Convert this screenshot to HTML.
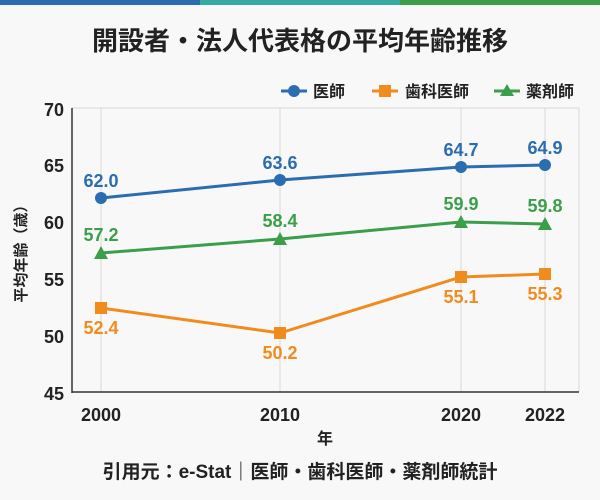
<!DOCTYPE html>
<html><head><meta charset="utf-8"><style>
body{margin:0;background:#f8f8f8;}
svg{display:block;font-family:"Liberation Sans","Noto Sans CJK JP",sans-serif;}
</style></head><body>
<svg width="600" height="500" viewBox="0 0 600 500">
<rect width="600" height="500" fill="#f8f8f8"/>
<rect x="0" y="0" width="200" height="5" fill="#2a6db0"/>
<rect x="200" y="0" width="200" height="5" fill="#38aaa5"/>
<rect x="400" y="0" width="200" height="5" fill="#3a9e4a"/>
<text x="300" y="50" text-anchor="middle" font-size="26" font-weight="bold" fill="#222">開設者・法人代表格の平均年齢推移</text>
<!-- legend -->
<g font-size="16" font-weight="bold" fill="#222">
<line x1="281" y1="91" x2="307" y2="91" stroke="#2a6db0" stroke-width="3"/><circle cx="294" cy="91" r="6" fill="#2a6db0"/>
<text x="313" y="97">医師</text>
<line x1="372" y1="91" x2="398" y2="91" stroke="#f08c1e" stroke-width="3"/><rect x="379" y="85" width="12" height="12" fill="#f08c1e"/>
<text x="405" y="97">歯科医師</text>
<line x1="494" y1="91" x2="520" y2="91" stroke="#3a9e4a" stroke-width="3"/><polygon points="507,84 514,96 500,96" fill="#3a9e4a"/>
<text x="526" y="97">薬剤師</text>
</g>
<!-- grid -->
<g stroke="#d8d8d8" stroke-width="1">
<line x1="101" y1="108" x2="101" y2="392"/>
<line x1="280" y1="108" x2="280" y2="392"/>
<line x1="461" y1="108" x2="461" y2="392"/>
<line x1="545" y1="108" x2="545" y2="392"/>
<line x1="72" y1="108" x2="579" y2="108"/>
<line x1="579" y1="108" x2="579" y2="392"/>
</g>
<line x1="72" y1="108" x2="72" y2="393" stroke="#333" stroke-width="1.5"/>
<line x1="72" y1="392" x2="579" y2="392" stroke="#333" stroke-width="1.5"/>
<g font-size="18" font-weight="bold" fill="#222" text-anchor="end">
<text x="64" y="116">70</text><text x="64" y="172">65</text><text x="64" y="229">60</text>
<text x="64" y="286">55</text><text x="64" y="343">50</text><text x="64" y="400">45</text>
</g>
<g font-size="18" font-weight="bold" fill="#222" text-anchor="middle">
<text x="101" y="421">2000</text><text x="280" y="421">2010</text><text x="461" y="421">2020</text><text x="545" y="421">2022</text>
<text x="325" y="444" font-size="16">年</text>
</g>
<text transform="translate(26 250) rotate(-90)" text-anchor="middle" font-size="15" font-weight="bold" fill="#222">平均年齢（歳）</text>
<!-- series -->
<polyline points="101,198 280,180 461,167 545,165" fill="none" stroke="#2a6db0" stroke-width="3"/>
<g fill="#2a6db0"><circle cx="101" cy="198" r="6"/><circle cx="280" cy="180" r="6"/><circle cx="461" cy="167" r="6"/><circle cx="545" cy="165" r="6"/></g>
<polyline points="101,253 280,239 461,222 545,224" fill="none" stroke="#3a9e4a" stroke-width="3"/>
<g fill="#3a9e4a"><polygon points="101,246 108,259 94,259"/><polygon points="280,232 287,245 273,245"/><polygon points="461,215 468,228 454,228"/><polygon points="545,217 552,230 538,230"/></g>
<polyline points="101,308 280,333 461,277 545,274" fill="none" stroke="#f08c1e" stroke-width="3"/>
<g fill="#f08c1e"><rect x="95" y="302" width="12" height="12"/><rect x="274" y="327" width="12" height="12"/><rect x="455" y="271" width="12" height="12"/><rect x="539" y="268" width="12" height="12"/></g>
<g font-size="18" font-weight="bold" text-anchor="middle">
<g fill="#2a6db0"><text x="101" y="187">62.0</text><text x="280" y="169">63.6</text><text x="461" y="156">64.7</text><text x="545" y="154">64.9</text></g>
<g fill="#3a9e4a"><text x="101" y="241">57.2</text><text x="280" y="227">58.4</text><text x="461" y="210">59.9</text><text x="545" y="212">59.8</text></g>
<g fill="#f08c1e"><text x="101" y="334">52.4</text><text x="280" y="359">50.2</text><text x="461" y="303">55.1</text><text x="545" y="300">55.3</text></g>
</g>
<text x="300" y="478" text-anchor="middle" font-size="19" font-weight="bold" fill="#222">引用元：e-Stat｜医師・歯科医師・薬剤師統計</text>
</svg>
</body></html>
